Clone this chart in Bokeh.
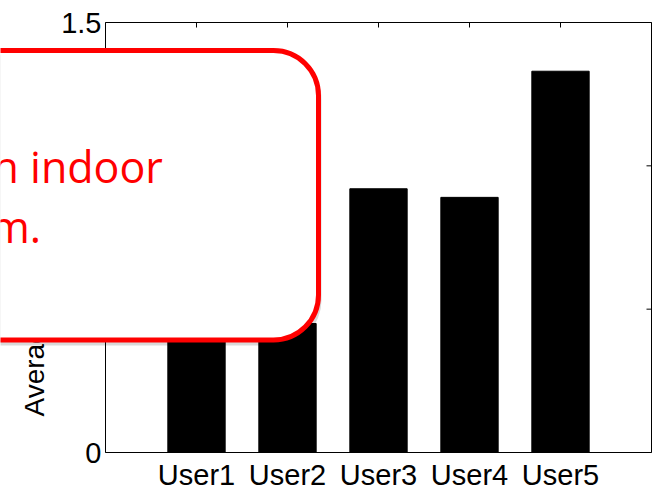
import math
from bokeh.plotting import figure
from bokeh.models import Range1d, BoxAnnotation, Label
from bokeh.core.properties import value
from bokeh.embed import file_html
from bokeh.resources import INLINE

# ---- data ----
categories = ["User1", "User2", "User3", "User4", "User5"]
values = [0.62, 0.45, 0.92, 0.89, 1.33]
y_ticks = [0, 0.5, 1, 1.5]
y_tick_labels = ["0", "0.5", "1", "1.5"]
y_label = "Average localization error (m)"
callout_lines = ["n indoor", "m."]

# ---- layout (pixels) ----
W, H = 658, 488
FL, FR, FT, FB = 105, 651, 22, 452       # axes box on the canvas
X0, X1 = 0, len(categories) + 1          # data x at box edges
Y0, Y1 = y_ticks[0], y_ticks[-1]
ppx = (FR - FL) / (X1 - X0)
ppy = (FB - FT) / (Y1 - Y0)
TICK = 5
FONT = "Liberation Sans"
FS = "29px"

x_pos = list(range(1, len(categories) + 1))

p = figure(width=W, height=H,
           x_range=Range1d(X0 - FL / ppx, X1 + (W - FR) / ppx),
           y_range=Range1d(Y0 - (H - FB) / ppy, Y1 + FT / ppy),
           output_backend="svg", toolbar_location=None,
           x_axis_location=None, y_axis_location=None, min_border=0)
p.xgrid.visible = False
p.ygrid.visible = False
p.outline_line_color = None
p.background_fill_color = "white"
p.border_fill_color = "white"

# inward ticks on all four sides
p.segment(x0=x_pos, y0=[Y0] * 5, x1=x_pos, y1=[Y0 + TICK / ppy] * 5, line_color="black", line_width=1)
p.segment(x0=x_pos, y0=[Y1] * 5, x1=x_pos, y1=[Y1 - TICK / ppy] * 5, line_color="black", line_width=1)
p.segment(x0=[X0] * 4, y0=y_ticks, x1=[X0 + TICK / ppx] * 4, y1=y_ticks, line_color="black", line_width=1)
p.segment(x0=[X1] * 4, y0=y_ticks, x1=[X1 - TICK / ppx] * 4, y1=y_ticks, line_color="black", line_width=1)

# bars
p.vbar(x=x_pos, top=values, bottom=0, width=0.63, fill_color="black", line_color="black")

# axes box
p.quad(left=[X0], right=[X1], bottom=[Y0], top=[Y1], fill_color=None,
       line_color="black", line_width=1)

# tick labels
p.text(x=x_pos, y=[Y0] * 5, text=categories, text_font=value(FONT), text_font_size=FS,
       text_align="center", text_baseline="middle", y_offset=22.5, text_color="black")
p.text(x=[X0] * 4, y=y_ticks, text=y_tick_labels, text_font=value(FONT), text_font_size=FS,
       text_align="right", text_baseline="middle", x_offset=-4, text_color="black")
# y axis label
p.text(x=[X0], y=[Y0], text=[y_label], angle=math.pi / 2,
       text_font=value(FONT), text_font_size="28px", text_align="left",
       text_baseline="middle", x_offset=-71, y_offset=-36, text_color="black")

# callout box overlay
shadow = BoxAnnotation(left=-60, right=321, top=54, bottom=345,
                       left_units="canvas", right_units="canvas",
                       top_units="canvas", bottom_units="canvas",
                       fill_color="black", fill_alpha=0.15, line_alpha=0,
                       border_radius=45, level="overlay")
box = BoxAnnotation(left=-60, right=318, top=50, bottom=339.5,
                    left_units="canvas", right_units="canvas",
                    top_units="canvas", bottom_units="canvas",
                    fill_color="white", fill_alpha=1.0,
                    line_color="#ff0000", line_width=5, line_alpha=1.0,
                    border_radius=45, level="overlay")
p.add_layout(shadow)
p.add_layout(box)

for txt, lx, ly in zip(callout_lines, [-8, -10.5], [165.5, 225.5]):
    p.add_layout(Label(x=lx, y=ly, x_units="canvas", y_units="canvas", text=txt,
                       text_font="Open Sans", text_font_size="43px", text_color="#ff0000",
                       text_baseline="middle", text_align="left", level="overlay"))

open("out.html", "w").write(file_html(p, INLINE))
